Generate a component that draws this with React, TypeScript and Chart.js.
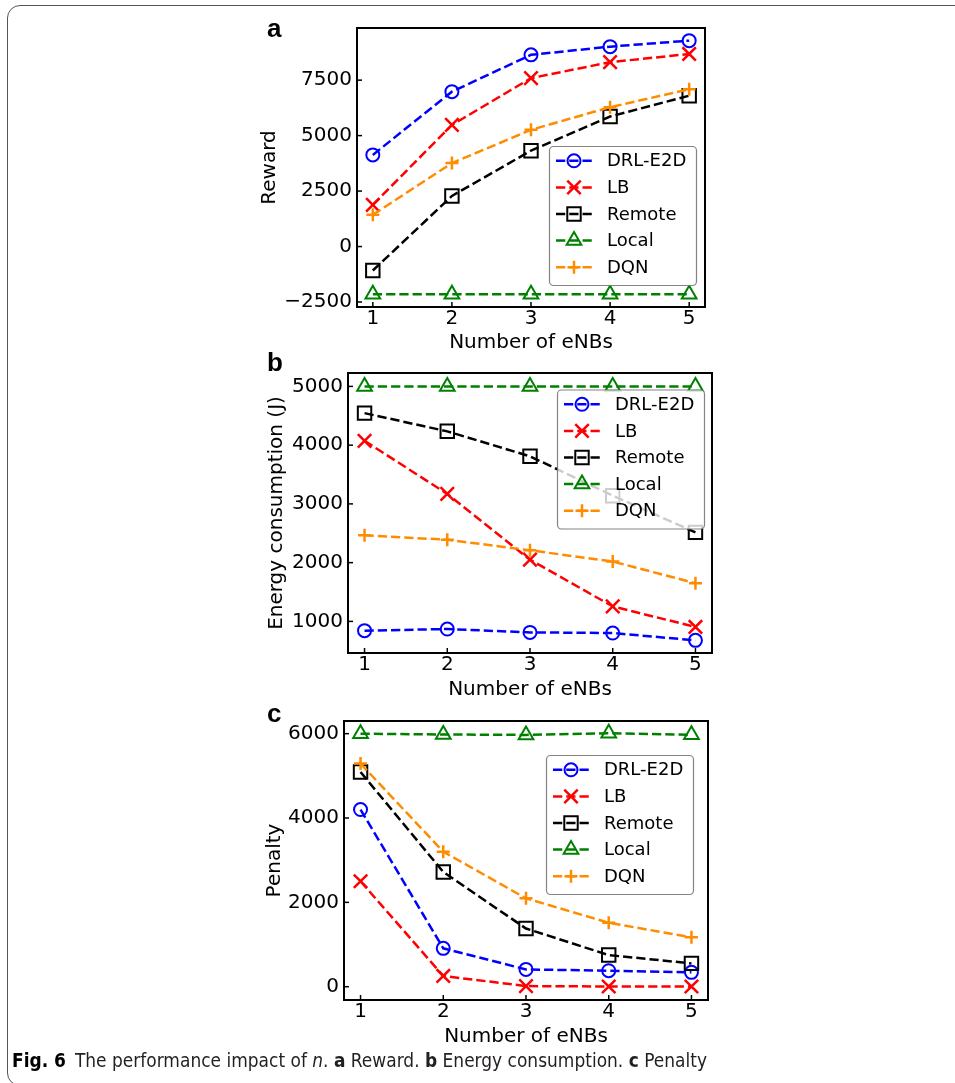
import React, { useEffect, useLayoutEffect, useRef } from 'react';
import { Chart, registerables } from 'chart.js';

Chart.register(...registerables);

// ---------------- data ----------------
const categories = [1, 2, 3, 4, 5];
const seriesNames = ['DRL-E2D', 'LB', 'Remote', 'Local', 'DQN'];

const rewardDRL = [4130, 6980, 8640, 9010, 9280];
const rewardLB = [1880, 5480, 7590, 8310, 8680];
const rewardRemote = [-1080, 2280, 4320, 5860, 6800];
const rewardLocal = [-2150, -2150, -2150, -2150, -2150];
const rewardDQN = [1430, 3760, 5260, 6280, 7090];

const energyDRL = [842, 870, 813, 802, 677];
const energyLB = [4073, 3170, 2050, 1255, 905];
const energyRemote = [4545, 4235, 3810, 3140, 2515];
const energyLocal = [5000, 5000, 5000, 5000, 5000];
const energyDQN = [2465, 2390, 2210, 2020, 1650];

const penaltyDRL = [4200, 910, 410, 380, 340];
const penaltyLB = [2500, 255, 15, 5, 5];
const penaltyRemote = [5090, 2720, 1380, 750, 553];
const penaltyLocal = [6000, 5980, 5970, 6010, 5975];
const penaltyDQN = [5290, 3200, 2095, 1517, 1170];

const xTicks = [1, 2, 3, 4, 5];
const rewardTicks = [-2500, 0, 2500, 5000, 7500];
const energyTicks = [1000, 2000, 3000, 4000, 5000];
const penaltyTicks = [0, 2000, 4000, 6000];

// ---------------- styles ----------------
const seriesStyles = [
  { color: '#0000ff', pointStyle: 'circle', radius: 6.5, pw: 2 },
  { color: '#ff0000', pointStyle: 'crossRot', radius: 9.5, pw: 2.5 },
  { color: '#000000', pointStyle: 'rect', radius: 9.5, pw: 2 },
  { color: '#008000', pointStyle: 'triangle', radius: 8.5, pw: 2 },
  { color: '#ff8c00', pointStyle: 'cross', radius: 6.5, pw: 2.5 },
];
const DASH = [9.25, 4];
const FONT = "'DejaVu Sans', sans-serif";

type Panel = {
  top: number;
  height: number;
  series: number[][];
  yTitle: string;
  yMin: number;
  yMax: number;
  yTicks: number[];
  padL: number;
  padR: number;
  padT: number;
  padB: number;
  yW: number;
  xH: number;
  legendX: number;
  legendY: number;
};

const panels: Panel[] = [
  {
    top: 0, height: 370,
    series: [rewardDRL, rewardLB, rewardRemote, rewardLocal, rewardDQN],
    yTitle: 'Reward', yMin: -2725, yMax: 9850, yTicks: rewardTicks,
    padL: 258, padR: 250, padT: 28, padB: 15, yW: 99, xH: 48,
    legendX: 549, legendY: 146,
  },
  {
    top: 340, height: 370,
    series: [energyDRL, energyLB, energyRemote, energyLocal, energyDQN],
    yTitle: 'Energy consumption (J)', yMin: 462, yMax: 5228, yTicks: energyTicks,
    padL: 265, padR: 243, padT: 33, padB: 8, yW: 83, xH: 49,
    legendX: 557, legendY: 49.5,
  },
  {
    top: 690, height: 370,
    series: [penaltyDRL, penaltyLB, penaltyRemote, penaltyLocal, penaltyDQN],
    yTitle: 'Penalty', yMin: -315, yMax: 6300, yTicks: penaltyTicks,
    padL: 263, padR: 247, padT: 31, padB: 11, yW: 81, xH: 49,
    legendX: 546, legendY: 65,
  },
];

function drawMarker(ctx: CanvasRenderingContext2D, style: string, x: number, y: number, r: number) {
  ctx.beginPath();
  if (style === 'circle') {
    ctx.arc(x, y, r, 0, Math.PI * 2);
    ctx.closePath();
  } else if (style === 'crossRot') {
    const d = Math.SQRT1_2 * r;
    ctx.moveTo(x - d, y - d); ctx.lineTo(x + d, y + d);
    ctx.moveTo(x - d, y + d); ctx.lineTo(x + d, y - d);
  } else if (style === 'rect') {
    const s = Math.SQRT1_2 * r;
    ctx.rect(x - s, y - s, 2 * s, 2 * s);
  } else if (style === 'triangle') {
    ctx.moveTo(x, y - r);
    ctx.lineTo(x + 0.8660254 * r, y + 0.5 * r);
    ctx.lineTo(x - 0.8660254 * r, y + 0.5 * r);
    ctx.closePath();
  } else {
    ctx.moveTo(x, y - r); ctx.lineTo(x, y + r);
    ctx.moveTo(x - r, y); ctx.lineTo(x + r, y);
  }
  ctx.stroke();
}

function makeDecor(p: Panel) {
  return {
    id: 'panelDecor',
    afterDatasetsDraw(chart: any) {
      const ctx: CanvasRenderingContext2D = chart.ctx;
      const { left, top, right, bottom } = chart.chartArea;
      ctx.save();
      ctx.setLineDash([]);
      ctx.strokeStyle = '#000';
      ctx.lineWidth = 1.5;
      xTicks.forEach((v) => {
        const px = chart.scales.x.getPixelForValue(v);
        ctx.beginPath(); ctx.moveTo(px, bottom); ctx.lineTo(px, bottom - 5); ctx.stroke();
      });
      p.yTicks.forEach((v) => {
        const py = chart.scales.y.getPixelForValue(v);
        ctx.beginPath(); ctx.moveTo(left, py); ctx.lineTo(left + 5, py); ctx.stroke();
      });
      ctx.lineWidth = 2;
      ctx.strokeRect(left, top, right - left, bottom - top);

      // legend
      const lx = p.legendX, ly = p.legendY, lw = 147, lh = 139;
      ctx.beginPath();
      (ctx as any).roundRect(lx + 0.5, ly + 0.5, lw, lh, 4);
      ctx.fillStyle = 'rgba(255,255,255,0.8)';
      ctx.fill();
      ctx.lineWidth = 1.2;
      ctx.strokeStyle = 'rgba(110,110,110,0.85)';
      ctx.stroke();
      seriesNames.forEach((name, i) => {
        const st = seriesStyles[i];
        const ry = ly + 14.8 + i * 26.6;
        ctx.strokeStyle = st.color;
        ctx.lineWidth = 2.5;
        ctx.setLineDash(DASH);
        ctx.beginPath(); ctx.moveTo(lx + 7, ry); ctx.lineTo(lx + 43, ry); ctx.stroke();
        ctx.setLineDash([]);
        ctx.lineWidth = st.pw;
        drawMarker(ctx, st.pointStyle, lx + 25, ry, st.radius);
        ctx.fillStyle = '#000';
        ctx.font = `18px ${FONT}`;
        ctx.textAlign = 'left';
        ctx.textBaseline = 'middle';
        ctx.fillText(name, lx + 58, ry + 1);
      });
      ctx.restore();
    },
  };
}

function minusFmt(v: number) {
  return v < 0 ? '\u2212' + Math.abs(v) : String(v);
}

function makeConfig(p: Panel): any {
  return {
    type: 'line',
    data: {
      datasets: p.series.map((vals, i) => ({
        label: seriesNames[i],
        data: categories.map((c, j) => ({ x: c, y: vals[j] })),
        borderColor: seriesStyles[i].color,
        backgroundColor: 'rgba(0,0,0,0)',
        borderWidth: 2.5,
        borderDash: DASH,
        pointStyle: seriesStyles[i].pointStyle,
        pointRadius: seriesStyles[i].radius,
        pointHoverRadius: seriesStyles[i].radius,
        pointBorderWidth: seriesStyles[i].pw,
        pointBorderColor: seriesStyles[i].color,
        pointBackgroundColor: 'rgba(0,0,0,0)',
        tension: 0,
        fill: false,
        clip: false,
        order: 5 - i,
      })),
    },
    options: {
      animation: false,
      responsive: false,
      maintainAspectRatio: false,
      devicePixelRatio: 1,
      events: [],
      layout: { padding: { left: p.padL, right: p.padR, top: p.padT, bottom: p.padB } },
      plugins: { legend: { display: false }, tooltip: { enabled: false } },
      scales: {
        x: {
          type: 'linear',
          min: 0.8,
          max: 5.2,
          afterBuildTicks: (s: any) => { s.ticks = xTicks.map((v) => ({ value: v })); },
          afterFit: (s: any) => { s.height = p.xH; },
          grid: { display: false, drawTicks: false },
          border: { display: false },
          ticks: {
            color: '#000', font: { family: FONT, size: 20 }, padding: 0,
            maxRotation: 0, autoSkip: false, callback: (v: any) => String(v),
          },
          title: {
            display: true, text: 'Number of eNBs', color: '#000',
            font: { family: FONT, size: 20, lineHeight: 1.2 }, padding: 0,
          },
        },
        y: {
          type: 'linear',
          min: p.yMin,
          max: p.yMax,
          afterBuildTicks: (s: any) => { s.ticks = p.yTicks.map((v) => ({ value: v })); },
          afterFit: (s: any) => { s.width = p.yW; },
          grid: { display: false, drawTicks: false },
          border: { display: false },
          ticks: {
            color: '#000', font: { family: FONT, size: 20 }, padding: 5,
            autoSkip: false, callback: (v: any) => minusFmt(Number(v)),
          },
          title: {
            display: true, text: p.yTitle, color: '#000',
            font: { family: FONT, size: 20, lineHeight: 1.2 }, padding: 0,
          },
        },
      },
    },
    plugins: [makeDecor(p)],
  };
}

function PanelChart({ p }: { p: Panel }) {
  const ref = useRef<HTMLCanvasElement>(null);
  useEffect(() => {
    if (!ref.current) return;
    const chart = new Chart(ref.current, makeConfig(p));
    return () => chart.destroy();
  }, [p]);
  return (
    <canvas
      ref={ref}
      width={955}
      height={p.height}
      style={{ position: 'absolute', left: 0, top: p.top, width: 955, height: p.height }}
    />
  );
}

function Letter({ text, left, baseline }: { text: string; left: number; baseline: number }) {
  return (
    <div
      style={{
        position: 'absolute', left, top: baseline - 22,
        fontFamily: "'Liberation Sans', Arial, sans-serif", fontWeight: 700,
        fontSize: 26, lineHeight: '26px', color: '#000',
      }}
    >
      {text}
    </div>
  );
}

function Caption() {
  const ref = useRef<HTMLDivElement>(null);
  useLayoutEffect(() => {
    const el = ref.current;
    if (!el) return;
    el.style.transform = 'none';
    const w = el.getBoundingClientRect().width;
    if (w > 0) el.style.transform = `scaleX(${695 / w})`;
  }, []);
  return (
    <div
      ref={ref}
      style={{
        position: 'absolute', left: 12, top: 1051, whiteSpace: 'nowrap',
        transformOrigin: '0 0',
        fontFamily: "'Liberation Sans Narrow', 'DejaVu Sans Condensed', 'Liberation Sans', sans-serif",
        fontSize: 19, lineHeight: '19px', color: '#231f20',
      }}
    >
      <b style={{ color: '#000' }}>Fig. 6</b>
      <span style={{ marginLeft: 9 }}>The performance impact of </span>
      <i>n</i>. <b>a</b> Reward. <b>b</b> Energy consumption. <b>c</b> Penalty
    </div>
  );
}

export default function App() {
  return (
    <div
      style={{
        position: 'absolute', left: 0, top: 0, width: 955, height: 1083,
        overflow: 'hidden', background: '#fff',
      }}
    >
      <div
        style={{
          position: 'absolute', left: 7, top: 5, width: 1200, height: 1081,
          border: '1.5px solid #555', borderRadius: 13, boxSizing: 'border-box',
        }}
      />
      {panels.map((p, i) => (
        <PanelChart key={i} p={p} />
      ))}
      <Letter text="a" left={267} baseline={37} />
      <Letter text="b" left={267} baseline={371} />
      <Letter text="c" left={267} baseline={722} />
      <Caption />
    </div>
  );
}
